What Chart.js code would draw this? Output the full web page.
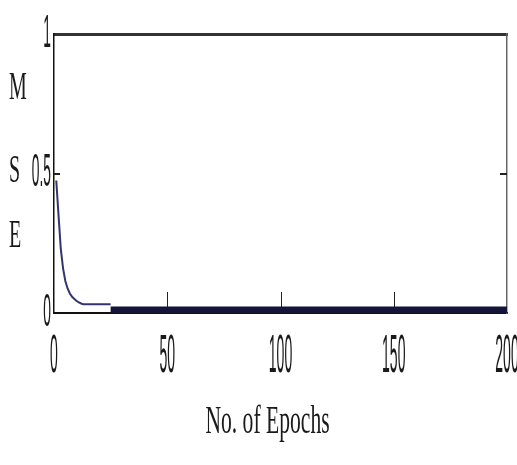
<!DOCTYPE html>
<html>
<head>
<meta charset="utf-8">
<script src="https://cdn.jsdelivr.net/npm/chart.js@4.4.1/dist/chart.umd.min.js"></script>
<style>
  html, body { margin: 0; padding: 0; background: #fff; }
</style>
</head>
<body>
<canvas id="mseChart" width="517" height="465"></canvas>
<script>
// training error per epoch
const epochs = [1, 2, 3, 4, 5, 6, 7, 8, 9, 10, 11, 12, 13, 25];
const mse = [0.475, 0.35, 0.23, 0.16, 0.115, 0.088, 0.07, 0.058, 0.05, 0.043, 0.038, 0.034, 0.031, 0.031];

// flat tail after convergence
const tailEpochs = [25, 200];
const tailMse = [0.009, 0.009];

const xTicks = [0, 50, 100, 150, 200];
const xTickLabels = ['0', '50', '100', '150', '200'];
const yTicks = [0, 0.5, 1];
const yTickLabels = ['0', '0.5', '1'];
const yTitle = ['M', 'S', 'E'];
const xTitle = 'No. of Epochs';

const toPoints = (xs, ys) => xs.map((x, i) => ({ x: x, y: ys[i] }));

// draw text squeezed horizontally (tall narrow lettering)
function squeezed(ctx, text, x, y, font, sx, align, baseline) {
  ctx.save();
  ctx.font = font;
  ctx.fillStyle = '#1a1a1a';
  ctx.textAlign = align;
  ctx.textBaseline = baseline;
  ctx.translate(x, y);
  ctx.scale(sx, 1);
  ctx.fillText(text, 0, 0);
  ctx.restore();
}

const axisDecor = {
  id: 'axisDecor',
  beforeDatasetsDraw(chart) {
    const ctx = chart.ctx;
    const area = chart.chartArea;
    const xs = chart.scales.x;
    const ys = chart.scales.y;
    ctx.save();
    ctx.strokeStyle = '#222';
    // inward ticks on the bottom axis
    ctx.lineWidth = 1;
    xTicks.slice(1, -1).forEach(v => {
      const px = Math.round(xs.getPixelForValue(v)) + 0.5;
      ctx.beginPath();
      ctx.moveTo(px, area.bottom);
      ctx.lineTo(px, area.bottom - 21);
      ctx.stroke();
    });
    // inward ticks left and right
    ctx.lineWidth = 2;
    yTicks.slice(1, -1).forEach(v => {
      const py = Math.round(ys.getPixelForValue(v));
      ctx.beginPath();
      ctx.moveTo(area.left, py);
      ctx.lineTo(area.left + 6, py);
      ctx.moveTo(area.right, py);
      ctx.lineTo(area.right - 7, py);
      ctx.stroke();
    });
    ctx.restore();
  },
  afterDraw(chart) {
    const ctx = chart.ctx;
    const area = chart.chartArea;
    const xs = chart.scales.x;
    const ys = chart.scales.y;

    xTicks.forEach((v, i) => {
      squeezed(ctx, xTickLabels[i], xs.getPixelForValue(v), area.bottom + 59,
        '54px "Liberation Sans"', 0.26, 'center', 'alphabetic');
    });
    yTicks.forEach((v, i) => {
      squeezed(ctx, yTickLabels[i], area.left - 3, ys.getPixelForValue(v),
        '46px "Liberation Sans"', 0.3, 'right', 'middle');
    });

    const titleBase = [99, 182, 247];
    yTitle.forEach((ch, i) => {
      squeezed(ctx, ch, 9, titleBase[i], '40px "Liberation Serif"', 0.5, 'left', 'alphabetic');
    });
    squeezed(ctx, xTitle, (area.left + area.right) / 2 - 13, area.bottom + 120,
      '40px "Liberation Serif"', 0.54, 'center', 'alphabetic');
  }
};

const hidden = { display: false };

new Chart(document.getElementById('mseChart'), {
  type: 'line',
  data: {
    datasets: [
      {
        label: 'MSE',
        data: toPoints(epochs, mse),
        borderColor: '#34346e',
        borderWidth: 2,
        pointRadius: 0,
        tension: 0
      },
      {
        label: 'MSE tail',
        data: toPoints(tailEpochs, tailMse),
        borderColor: '#15153a',
        borderWidth: 8,
        pointRadius: 0
      }
    ]
  },
  options: {
    responsive: false,
    animation: false,
    events: [],
    layout: { padding: 0 },
    plugins: {
      legend: hidden,
      tooltip: { enabled: false }
    },
    scales: {
      x: {
        type: 'linear',
        position: 'bottom',
        min: 0,
        max: 200,
        ticks: hidden,
        grid: { display: false, drawTicks: false },
        border: { display: true, color: '#111', width: 2 },
        afterFit: s => { s.height = 152; }
      },
      xTop: {
        type: 'linear',
        position: 'top',
        min: 0,
        max: 200,
        ticks: hidden,
        grid: { display: false, drawTicks: false },
        border: { display: true, color: '#333', width: 3 },
        afterFit: s => { s.height = 34; }
      },
      y: {
        type: 'linear',
        position: 'left',
        min: 0,
        max: 1,
        ticks: hidden,
        grid: { display: false, drawTicks: false },
        border: { display: true, color: '#111', width: 1.5 },
        afterFit: s => { s.width = 54; }
      },
      yRight: {
        type: 'linear',
        position: 'right',
        min: 0,
        max: 1,
        ticks: hidden,
        grid: { display: false, drawTicks: false },
        border: { display: true, color: '#666', width: 1.5 },
        afterFit: s => { s.width = 10; }
      }
    }
  },
  plugins: [axisDecor]
});
</script>
</body>
</html>
